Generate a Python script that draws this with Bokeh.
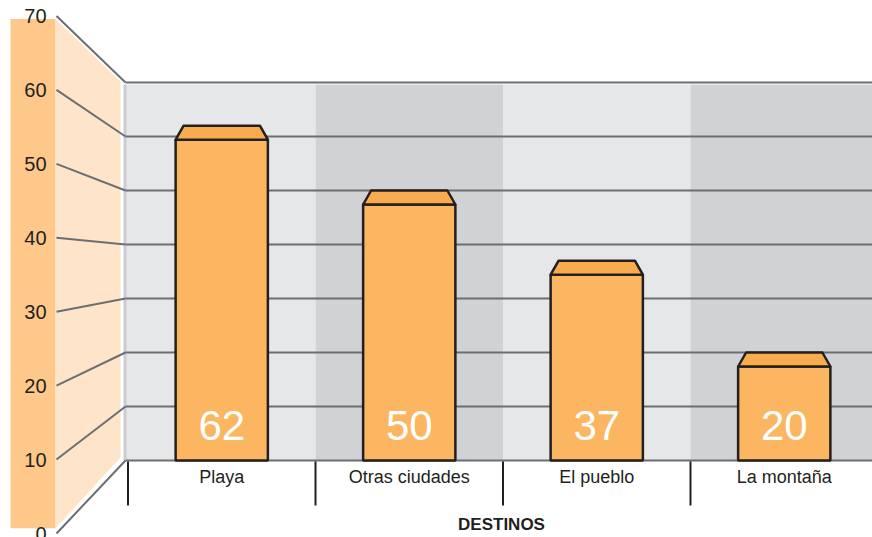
from bokeh.plotting import figure
from bokeh.models import Range1d
from bokeh.embed import file_html
from bokeh.resources import INLINE
from bokeh.core.properties import value

# ---- data ----
categories = ["Playa", "Otras ciudades", "El pueblo", "La montaña"]
values = [62, 50, 37, 20]
tick_values = [0, 10, 20, 30, 40, 50, 60, 70]
tick_labels = ["0", "10", "20", "30", "40", "50", "60", "70"]
axis_title = "DESTINOS"

# ---- layout helpers (picture pixel -> data units) ----
W, H = 872, 537
X0, BAND = 127.5, 187.5          # x=0 at wall start, one category per unit
Y0, KB = 460.0, 5.4              # back wall: value 0 at y=460, 5.4 px per unit
F0, KF = 533.0, 7.393            # front axis: value 0 at y=533


def px(p):
    return (p - X0) / BAND


def py(p):
    return (Y0 - p) / KB


def front(v):
    # front-axis value expressed in back-wall data units
    return py(F0 - KF * v)


p = figure(width=W, height=H, output_backend="svg", toolbar_location=None,
           x_range=Range1d(px(0), px(W)), y_range=Range1d(py(H), py(0)),
           x_axis_type=None, y_axis_type=None, min_border=0)
p.grid.visible = False
p.outline_line_color = None
p.background_fill_color = "white"

FONT = value("Liberation Sans")
DARK = "#231F20"
GRID = "#6D6E71"

# left orange strip
p.quad(left=px(10), right=px(55), bottom=front(0.7), top=front(69.6),
       fill_color="#FDC88A", line_color=None)
# light trapezoid (perspective side)
p.patch(x=[px(55), px(120), px(120), px(55)],
        y=[front(69.6), py(81), py(457), front(0.7)],
        fill_color="#FEE5C9", line_color=None)

# back wall bands
band_colors = ["#E6E7E8", "#D1D2D4", "#E6E7E8", "#D1D2D4"]
wall_top = py(84)
for i, c in enumerate(categories):
    left = px(125) if i == 0 else i
    p.quad(left=left, right=i + 1, bottom=0, top=wall_top,
           fill_color=band_colors[i], line_color=None)
p.quad(left=px(123), right=px(126), bottom=0, top=wall_top,
       fill_color="#CBCCCE", line_color=None)

# grid lines on wall + perspective lines to front axis
p.segment(x0=[px(125)] * len(tick_values), x1=[px(W)] * len(tick_values),
          y0=tick_values, y1=tick_values, line_color=GRID, line_width=2)
p.segment(x0=[px(56)] * len(tick_values), x1=[px(125)] * len(tick_values),
          y0=[front(v) for v in tick_values], y1=tick_values,
          line_color=GRID, line_width=2)

# front axis labels
p.text(x=[px(46)] * len(tick_values), y=[front(v) for v in tick_values],
       text=tick_labels, text_font=FONT, text_font_size="20px",
       text_color=DARK, text_align="right", text_baseline="middle")

# bars
half = 0.246
cap_depth = 14 / KB
inset = 8 / BAND
centers = [i + 0.5 for i in range(len(categories))]
p.quad(left=[c - half for c in centers], right=[c + half for c in centers],
       bottom=0, top=[v - cap_depth for v in values],
       fill_color="#FCB662", line_color=DARK, line_width=2.5)
cap_xs, cap_ys = [], []
for c, v in zip(centers, values):
    cap_xs.append([c - half, c - half + inset, c + half - inset, c + half])
    cap_ys.append([v - cap_depth, v, v, v - cap_depth])
p.patches(xs=cap_xs, ys=cap_ys, fill_color="#F9AC4E", line_color=DARK,
          line_width=2.5, line_join="round")

# value labels inside bars
p.text(x=centers, y=[py(425)] * len(values), text=[str(v) for v in values],
       text_font=FONT, text_font_size="42px", text_color="white",
       text_align="center", text_baseline="middle")

# category ticks + labels
p.segment(x0=list(range(len(categories))), x1=list(range(len(categories))),
          y0=[py(461)] * len(categories), y1=[py(505)] * len(categories),
          line_color=DARK, line_width=2)
p.text(x=centers, y=[py(476)] * len(categories), text=categories,
       text_font=FONT, text_font_size="18px", text_color=DARK,
       text_align="center", text_baseline="middle")
p.text(x=[px(501)], y=[py(524)], text=[axis_title], text_font=FONT,
       text_font_size="17px", text_font_style="bold", text_color=DARK,
       text_align="center", text_baseline="middle")

open("out.html", "w").write(file_html(p, INLINE))
